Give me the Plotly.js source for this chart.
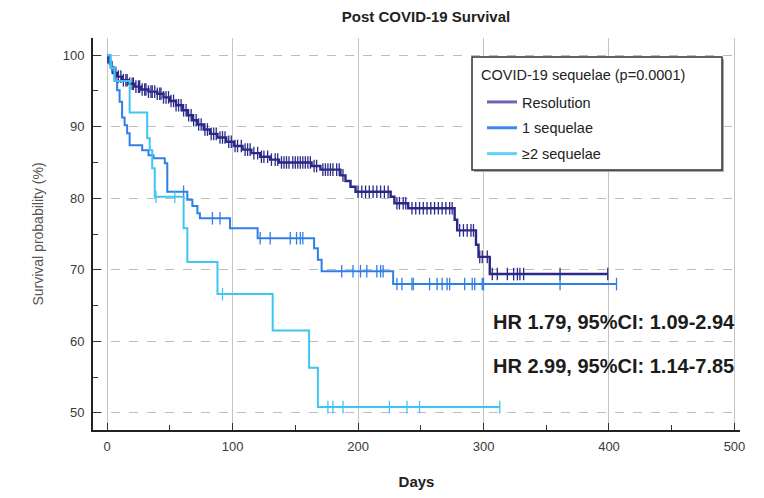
<!DOCTYPE html>
<html>
<head>
<meta charset="utf-8">
<script src="https://cdn.plot.ly/plotly-3.0.1.min.js"></script>
<style>html,body{margin:0;padding:0;background:#fff;}#chart{width:764px;height:498px;}</style>
</head>
<body>
<div id="chart"></div>
<script>
// ---- Data ----
const seriesNames = ["Resolution", "1 sequelae", "\u22652 sequelae"];
const legendTitle = "COVID-19 sequelae (p=0.0001)";

// Resolution: step times (days) and survival (%) after each step
const resTimes = [0, 1, 3, 5, 8, 12, 17, 22, 27, 33, 40, 45, 50, 55, 60, 64, 68, 72, 77, 82, 88, 95, 101, 108, 115, 122, 130, 137, 163, 170, 186, 190, 194, 198, 226, 229, 240, 277, 279, 294, 296, 305];
const resSurv  = [100, 99.0, 98.3, 97.5, 97.0, 96.5, 96.0, 95.6, 95.2, 94.9, 94.6, 94.1, 93.6, 93.0, 92.3, 91.6, 90.9, 90.3, 89.6, 89.0, 88.5, 87.9, 87.3, 86.8, 86.3, 85.8, 85.4, 85.0, 84.5, 84.0, 83.2, 82.4, 81.6, 80.9, 80.2, 79.3, 78.6, 77.0, 75.5, 73.5, 71.8, 69.4];
const resEnd = 399;
const resCensor = [4,6,7,9,11,13,15,16,18,20,21,23,25,26,28,30,31,33,35,36,38,40,42,43,45,47,49,51,53,55,57,59,61,63,65,67,69,71,73,75,78,80,83,85,87,90,92,94,97,99,102,104,107,110,112,114,117,120,123,125,128,131,134,136,139,141,143,145,148,150,152,154,156,158,160,162,165,167,172,174,176,178,180,183,185,188,200,203,206,209,212,215,218,221,224,231,233,236,238,243,246,249,252,255,258,261,264,267,270,273,275,281,284,287,290,292,297,299,303,307,311,319,324,327,329,332,361,399];

// 1 sequelae
const oneTimes = [0, 2, 4, 6, 8, 10, 12, 14, 16, 18, 28, 33, 37, 46, 48, 64, 68, 72, 74, 98, 120, 165, 168, 171, 228];
const oneSurv  = [100, 98.8, 97.9, 96.5, 95.1, 93.5, 91.3, 90.2, 89.1, 87.4, 86.7, 86.0, 85.6, 84.9, 80.9, 79.8, 78.9, 77.9, 77.2, 75.8, 74.4, 73.0, 71.4, 69.8, 68.0];
const oneEnd = 406;
const oneCensor = [61, 84, 90, 122, 130, 146, 151, 154, 156, 187, 196, 202, 207, 215, 218, 220, 231, 235, 243, 244, 257, 263, 267, 271, 273, 285, 291, 293, 299, 300, 361, 406];

// >=2 sequelae
const twoTimes = [0, 3, 6, 18, 32, 34, 36, 38, 61, 64, 88, 132, 161, 168];
const twoSurv  = [100, 98.2, 96.4, 92.0, 88.4, 86.7, 84.2, 80.2, 75.8, 71.1, 66.6, 61.5, 56.3, 50.8];
const twoEnd = 313;
const twoCensor = [39, 54, 92, 176, 180, 188, 225, 239, 249, 313];

// Tick labels
const xTicks = [0, 100, 200, 300, 400, 500];
const yTicks = [50, 60, 70, 80, 90, 100];

const hrTexts = ["HR 1.79, 95%CI: 1.09-2.94", "HR 2.99, 95%CI: 1.14-7.85"];

// ---- Build traces ----
function stepXY(times, surv, end) {
  return { x: times.concat([end]), y: surv.concat([surv[surv.length - 1]]) };
}
function survAt(times, surv, t) {
  let v = surv[0];
  for (let i = 0; i < times.length; i++) { if (times[i] <= t) v = surv[i]; }
  return v;
}

const colors = ["#2b2987", "#2f7fe6", "#3ec5f3"];
const legendColors = ["#6b66b3", "#3f86ee", "#5fd0f7"];
const groups = [
  [resTimes, resSurv, resEnd, resCensor],
  [oneTimes, oneSurv, oneEnd, oneCensor],
  [twoTimes, twoSurv, twoEnd, twoCensor]
];

const traces = [];
groups.forEach((g, i) => {
  const s = stepXY(g[0], g[1], g[2]);
  traces.push({
    type: "scatter", mode: "lines", name: seriesNames[i],
    x: s.x, y: s.y, line: { shape: "hv", color: colors[i], width: i === 0 ? 2.4 : 2 },
    legendgroup: "g" + i, showlegend: false, hoverinfo: "skip"
  });
  traces.push({
    type: "scatter", mode: "markers", name: seriesNames[i] + " censored",
    x: g[3], y: g[3].map(t => survAt(g[0], g[1], t)),
    marker: { symbol: "line-ns", size: 9, line: { color: colors[i], width: 1.3 } },
    legendgroup: "g" + i, showlegend: false, hoverinfo: "skip"
  });
  // legend-only entry
  traces.push({
    type: "scatter", mode: "lines", name: seriesNames[i],
    x: [null], y: [null], line: { color: legendColors[i], width: 3 },
    legendgroup: "g" + i, showlegend: true, hoverinfo: "skip"
  });
});

const plotL = 93, plotR = 740, plotT = 38, plotB = 430;
const W = 764, H = 498;
const px = v => (v - plotL) / (plotR - plotL);
const py = v => (plotB - v) / (plotB - plotT);

const tickFont = { family: "Liberation Sans Narrow, Arial Narrow, Liberation Sans, Arial, sans-serif", size: 13, color: "#3a3a3a" };
const legFont = { family: "Liberation Sans, Arial, sans-serif", size: 14.5, color: "#222" };

const annotations = hrTexts.map((t, i) => ({
  text: "<b>" + t + "</b>", xref: "paper", yref: "paper",
  x: px(491), y: py(i === 0 ? 322 : 366), xanchor: "left", yanchor: "middle", showarrow: false,
  font: { family: "Liberation Sans, Arial, sans-serif", size: 20, color: "#1c1c1c" }
}));
annotations.push({
  text: legendTitle, xref: "paper", yref: "paper", x: px(479), y: py(75),
  xanchor: "left", yanchor: "middle", showarrow: false, font: legFont
});

const layout = {
  width: W, height: H,
  margin: { l: plotL, r: W - plotR, t: plotT, b: H - plotB, pad: 0 },
  paper_bgcolor: "#ffffff", plot_bgcolor: "#ffffff",
  showlegend: true,
  title: {
    text: "<b>Post COVID-19 Survival</b>",
    font: { family: "Liberation Sans Narrow, Arial, sans-serif", size: 15, color: "#222" },
    x: px(426), xref: "paper", xanchor: "center", y: 1 - 17 / H, yanchor: "middle"
  },
  xaxis: {
    range: [-11.2, 504.4], tickvals: xTicks, ticktext: xTicks.map(String),
    ticks: "inside", ticklen: 7, tickcolor: "#333", tickwidth: 1,
    minor: { dtick: 50, tick0: 0, ticks: "inside", ticklen: 5, tickcolor: "#333", showgrid: false },
    showline: true, linecolor: "#222", linewidth: 2,
    showgrid: true, gridcolor: "#c4c4c4", gridwidth: 1, griddash: "solid",
    zeroline: false, tickfont: tickFont, ticklabelstandoff: 3,
    title: { text: "<b>Days</b>", font: { family: "Liberation Sans Narrow, Arial, sans-serif", size: 15, color: "#222" }, standoff: 24 }
  },
  yaxis: {
    range: [47.6, 102.4], tickvals: yTicks, ticktext: yTicks.map(String),
    ticks: "inside", ticklen: 8, tickcolor: "#333", tickwidth: 1,
    minor: { dtick: 5, tick0: 50, ticks: "inside", ticklen: 5, tickcolor: "#333", showgrid: false },
    showline: true, linecolor: "#222", linewidth: 2,
    showgrid: true, gridcolor: "#bdbdbd", gridwidth: 1, griddash: "dash",
    zeroline: false, tickfont: tickFont, ticklabelstandoff: 4,
    title: { text: "Survival probability (%)", font: { family: "Liberation Sans, Arial, sans-serif", size: 14, color: "#555" }, standoff: 16 }
  },
  legend: {
    x: px(482), y: py(86), xanchor: "left", yanchor: "top", xref: "paper", yref: "paper",
    bgcolor: "rgba(0,0,0,0)", borderwidth: 0,
    font: legFont,
    traceorder: "grouped", tracegroupgap: 4, itemwidth: 30
  },
  shapes: [
    { type: "rect", xref: "paper", yref: "paper", x0: px(474), x1: px(724), y0: py(172), y1: py(59),
      fillcolor: "#aaaaaa", line: { width: 0 }, layer: "above" },
    { type: "rect", xref: "paper", yref: "paper", x0: px(472), x1: px(722), y0: py(170), y1: py(57),
      fillcolor: "#ffffff", line: { color: "#333", width: 1.5 }, layer: "above" }
  ],
  annotations: annotations
};

Plotly.newPlot("chart", traces, layout, { staticPlot: true, displayModeBar: false });
</script>
</body>
</html>
